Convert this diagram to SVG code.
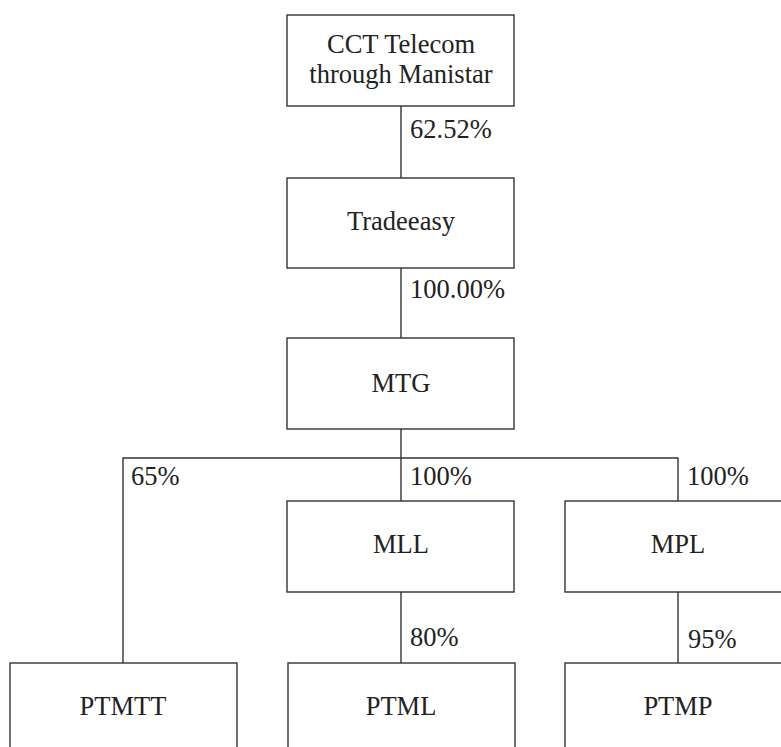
<svg xmlns="http://www.w3.org/2000/svg" width="781" height="747" viewBox="0 0 781 747">
<style>
.box{fill:#fff;stroke:#333;stroke-width:1.4}
.ln{stroke:#333;stroke-width:1.4;fill:none}
.t{font-family:'Liberation Serif','Times New Roman','DejaVu Serif',serif;font-size:26.5px;fill:#222}
.c{text-anchor:middle}
</style>
<rect width="781" height="747" fill="#fff"/>
<g id="connectors">
<line class="ln" x1="401" y1="106" x2="401" y2="178"/>
<line class="ln" x1="401" y1="268" x2="401" y2="338"/>
<line class="ln" x1="401" y1="429" x2="401" y2="501"/>
<polyline class="ln" points="123,663 123,458 678,458 678,501"/>
<line class="ln" x1="401" y1="592" x2="401" y2="663"/>
<line class="ln" x1="678" y1="592" x2="678" y2="663"/>
<text class="t" x="410" y="138">62.52%</text>
<text class="t" x="410" y="298">100.00%</text>
<text class="t" x="131" y="485">65%</text>
<text class="t" x="410" y="485">100%</text>
<text class="t" x="687" y="485">100%</text>
<text class="t" x="410" y="646">80%</text>
<text class="t" x="688" y="648">95%</text>
</g>
<g id="cct">
<rect class="box" x="287" y="15" width="227" height="91"/>
<text class="t c" x="401" y="53">CCT Telecom</text>
<text class="t c" x="401" y="83">through Manistar</text>
</g>
<g id="tradeeasy">
<rect class="box" x="287" y="178" width="227" height="90"/>
<text class="t c" x="401" y="230">Tradeeasy</text>
</g>
<g id="mtg">
<rect class="box" x="287" y="338" width="227" height="91"/>
<text class="t c" x="401" y="392">MTG</text>
</g>
<g id="mll">
<rect class="box" x="287" y="501" width="227" height="91"/>
<text class="t c" x="401" y="553">MLL</text>
</g>
<g id="mpl">
<rect class="box" x="565" y="501" width="227" height="91"/>
<text class="t c" x="678" y="553">MPL</text>
</g>
<g id="ptmtt">
<rect class="box" x="10" y="663" width="227" height="91"/>
<text class="t c" x="123" y="715">PTMTT</text>
</g>
<g id="ptml">
<rect class="box" x="288" y="663" width="227" height="91"/>
<text class="t c" x="401" y="715">PTML</text>
</g>
<g id="ptmp">
<rect class="box" x="565" y="663" width="227" height="91"/>
<text class="t c" x="678" y="715">PTMP</text>
</g>
</svg>
